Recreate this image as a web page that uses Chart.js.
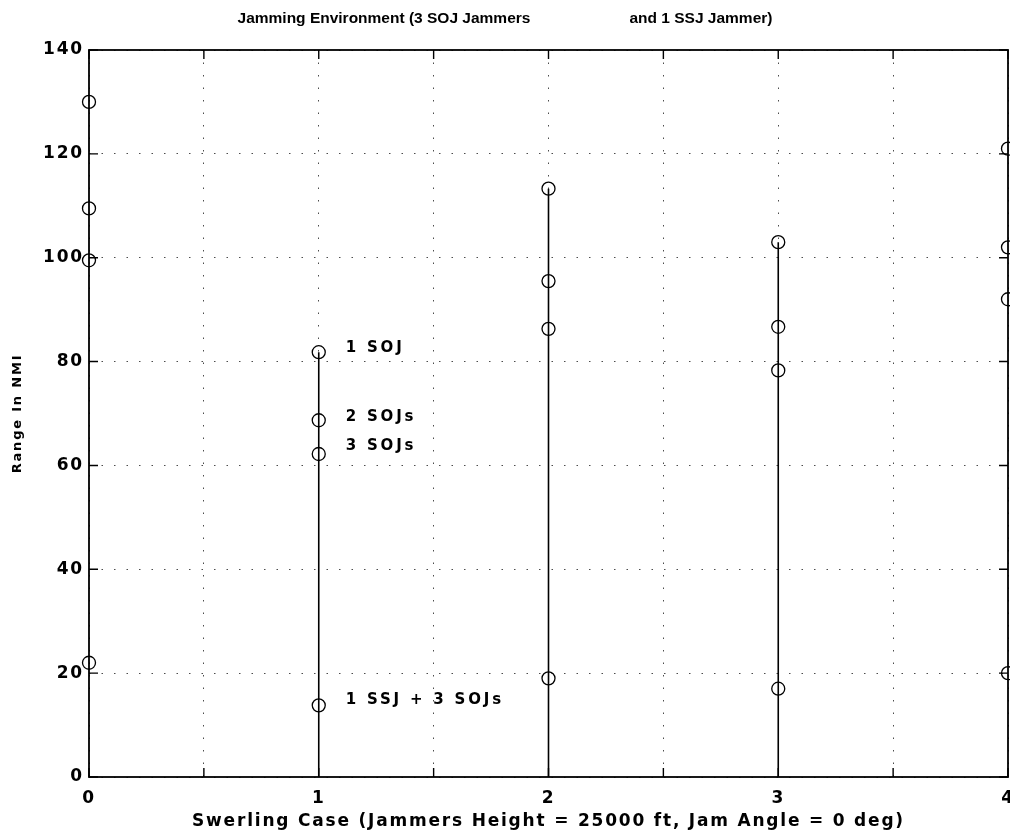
<!DOCTYPE html>
<html>
<head>
<meta charset="utf-8">
<script src="https://cdn.jsdelivr.net/npm/chart.js@4.4.1/dist/chart.umd.min.js"></script>
<style>
  html, body { margin: 0; padding: 0; background: #fff; overflow: hidden; }
  #wrap { width: 1010px; height: 840px; }
</style>
</head>
<body>
<div id="wrap"><canvas id="c"></canvas></div>
<script>
// Swerling cases on x, detection range (NMI) per jamming condition on y
const swerlingCases = [0, 1, 2, 3, 4];
const range1Soj    = [130, 81.8, 113.3, 103.0, 121.0];
const range2Soj    = [109.5, 68.7, 95.5, 86.7, 102.0];
const range3Soj    = [99.5, 62.2, 86.3, 78.3, 92.0];
const range1Ssj3Soj = [22.0, 13.8, 19.0, 17.0, 20.0];

const yTicks = [0, 20, 40, 60, 80, 100, 120, 140];

const chartTitle = 'Jamming Environment (3 SOJ Jammers                       and 1 SSJ Jammer)';

// text labels next to the Swerling case 1 stem
const noteTexts = ['1 SOJ', '2 SOJs', '3 SOJs', '1 SSJ + 3 SOJs'];
const noteX     = [1, 1, 1, 1];
const noteY     = [82.6, 69.3, 63.7, 14.8];

const FONT = "'Liberation Sans', Arial, Helvetica, sans-serif";
const WIDE = "'DejaVu Sans', 'Liberation Sans', Arial, sans-serif";
const INK = '#000';

function circles(values) {
  return swerlingCases.map((x, i) => ({ x, y: values[i] }));
}

const pointStyle = {
  showLine: false,
  clip: false,
  pointStyle: 'circle',
  pointRadius: 6.5,
  pointBorderWidth: 1.3,
  pointBorderColor: INK,
  pointBackgroundColor: 'rgba(0,0,0,0)',
};

// vertical stems from 0 up to the highest value for cases 1..3
const stems = [1, 2, 3].map(c => {
  const top = Math.max(range1Soj[c], range2Soj[c], range3Soj[c], range1Ssj3Soj[c]);
  return {
    data: [{ x: swerlingCases[c], y: 0 }, { x: swerlingCases[c], y: top }],
    showLine: true,
    clip: false,
    borderColor: INK,
    borderWidth: 1.6,
    pointRadius: 0,
  };
});

const datasets = [
  ...stems,
  { label: '1 SOJ',           data: circles(range1Soj),     ...pointStyle },
  { label: '2 SOJs',          data: circles(range2Soj),     ...pointStyle },
  { label: '3 SOJs',          data: circles(range3Soj),     ...pointStyle },
  { label: '1 SSJ + 3 SOJs',  data: circles(range1Ssj3Soj), ...pointStyle },
];

// frame with inward tick marks (matlab style), title and note labels
const framePlugin = {
  id: 'frame',
  beforeDraw(chart) {
    // the scanned print uses widely spaced lettering on the axes
    chart.ctx.letterSpacing = '1.8px';
  },
  afterDatasetsDraw(chart) {
    const { ctx, chartArea: a, scales } = chart;
    ctx.save();
    ctx.strokeStyle = INK;
    ctx.lineWidth = 1.8;
    ctx.strokeRect(a.left, a.top, a.right - a.left, a.bottom - a.top);
    ctx.lineWidth = 1.4;
    const tl = 9;
    scales.x.ticks.forEach(t => {
      const px = scales.x.getPixelForValue(t.value);
      ctx.beginPath();
      ctx.moveTo(px, a.bottom); ctx.lineTo(px, a.bottom - tl);
      ctx.moveTo(px, a.top);    ctx.lineTo(px, a.top + tl);
      ctx.stroke();
    });
    scales.y.ticks.forEach(t => {
      const py = scales.y.getPixelForValue(t.value);
      ctx.beginPath();
      ctx.moveTo(a.left, py);  ctx.lineTo(a.left + tl, py);
      ctx.moveTo(a.right, py); ctx.lineTo(a.right - tl, py);
      ctx.stroke();
    });

    ctx.fillStyle = INK;
    ctx.font = 'bold 15px ' + WIDE;
    ctx.letterSpacing = '2.8px';
    ctx.textAlign = 'left';
    ctx.textBaseline = 'middle';
    noteTexts.forEach((txt, i) => {
      const px = scales.x.getPixelForValue(noteX[i]) + 27;
      const py = scales.y.getPixelForValue(noteY[i]);
      ctx.fillText(txt, px, py);
    });

    ctx.font = 'bold 15.5px ' + FONT;
    ctx.letterSpacing = '0px';
    ctx.textAlign = 'center';
    ctx.fillText(chartTitle, chart.width / 2, 19);
    ctx.restore();
  },
};

const gridCfg = {
  color: 'rgba(0,0,0,0.7)',
  lineWidth: 1,
  drawTicks: false,
};

new Chart(document.getElementById('c'), {
  type: 'scatter',
  data: { datasets },
  options: {
    responsive: true,
    maintainAspectRatio: false,
    animation: false,
    layout: { autoPadding: false, padding: { left: 10, right: 2, top: 50, bottom: 0 } },
    plugins: {
      legend: { display: false },
      tooltip: { enabled: false },
      title: { display: false },
    },
    scales: {
      x: {
        type: 'linear',
        min: 0, max: 4,
        grid: gridCfg,
        border: { display: false, dash: [1.5, 11] },
        ticks: {
          stepSize: 0.5,
          padding: 11,
          color: INK,
          font: { family: WIDE, size: 17, weight: 'bold' },
          callback: v => (Number.isInteger(v) ? String(v) : ''),
          maxRotation: 0,
        },
        title: {
          display: true,
          text: 'Swerling Case (Jammers Height = 25000 ft, Jam Angle = 0 deg)',
          color: INK,
          font: { family: WIDE, size: 17, weight: 'bold' },
          padding: { top: 0, bottom: 8 },
        },
        afterFit(scale) {
          scale.paddingLeft = 0;
          scale.paddingRight = 0;
          scale.height = 63;
        },
      },
      y: {
        min: 0, max: 140,
        grid: gridCfg,
        border: { display: false, dash: [1.5, 11] },
        afterBuildTicks(scale) {
          scale.ticks = yTicks.map(v => ({ value: v }));
        },
        ticks: {
          padding: 5,
          color: INK,
          font: { family: WIDE, size: 17, weight: 'bold' },
        },
        title: {
          display: true,
          text: 'Range In NMI',
          color: INK,
          font: { family: WIDE, size: 13, weight: 'bold' },
          padding: { top: 0, bottom: 8 },
        },
        afterFit(scale) {
          scale.width = 79;
        },
      },
    },
  },
  plugins: [framePlugin],
});
</script>
</body>
</html>
